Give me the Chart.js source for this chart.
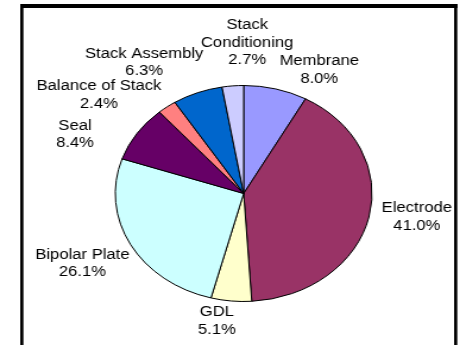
<!DOCTYPE html>
<html>
<head>
<meta charset="utf-8">
<script src="https://cdn.jsdelivr.net/npm/chart.js@4/dist/chart.umd.min.js"></script>
<style>
  html, body { margin: 0; padding: 0; background: #fff; overflow: hidden; }
  #wrap { width: 460px; height: 345px; overflow: hidden; }
  /* the chart is drawn narrow and stretched sideways, so the pie comes out oval */
  #costChart { display: block; transform: scaleX(1.18863); transform-origin: 0 0; }
</style>
</head>
<body>
<div id="wrap"><canvas id="costChart" width="387" height="345"></canvas></div>
<script>
const components = ['Membrane', 'Electrode', 'GDL', ['Bipolar Plate'], 'Seal', 'Balance of Stack', 'Stack Assembly', ['Stack', 'Conditioning']];
const shares = [8.0, 41.0, 5.1, 26.1, 8.4, 2.4, 6.3, 2.7];
const sliceColors = ['#9999FF', '#993366', '#FFFFCC', '#CCFFFF', '#660066', '#FF8080', '#0066CC', '#CCCCFF'];

// label centres, in pie radii from the pie centre
const labelSpots = [
  [0.589, -1.140], [1.349, 0.217], [-0.209, 1.184], [-1.256, 0.650],
  [-1.314, -0.544], [-1.128, -0.912], [-0.775, -1.212], [0.027, -1.395]
];

const framePlugin = {
  id: 'frame',
  beforeDraw(chart) {
    const ctx = chart.ctx;
    ctx.save();
    ctx.fillStyle = '#fff';
    ctx.fillRect(0, 0, chart.width, chart.height);
    ctx.fillStyle = '#000';
    ctx.fillRect(17, 4, 368, 4);
    ctx.fillRect(17, 4, 2.7, chart.height);
    ctx.fillRect(382, 4, 2.7, chart.height);
    ctx.restore();
  }
};

const labelPlugin = {
  id: 'sliceLabels',
  afterDatasetsDraw(chart) {
    const ctx = chart.ctx;
    const arcs = chart.getDatasetMeta(0).data;
    const cx = arcs[0].x, cy = arcs[0].y, r = arcs[0].outerRadius;
    const lineH = 17.5;
    ctx.save();
    ctx.font = '14px "Liberation Sans", Arial, sans-serif';
    ctx.fillStyle = '#000';
    ctx.textAlign = 'center';
    ctx.textBaseline = 'middle';
    arcs.forEach((arc, i) => {
      const name = components[i];
      const lines = (Array.isArray(name) ? name : [name]).concat(shares[i].toFixed(1) + '%');
      const x = cx + labelSpots[i][0] * r;
      const y = cy + labelSpots[i][1] * r;
      const top = y - (lines.length - 1) * lineH / 2;
      lines.forEach((t, j) => ctx.fillText(t, x, top + j * lineH));
    });
    ctx.restore();
  }
};

new Chart(document.getElementById('costChart'), {
  type: 'pie',
  data: {
    labels: components,
    datasets: [{
      data: shares,
      backgroundColor: sliceColors,
      borderColor: '#000',
      borderWidth: 1
    }]
  },
  options: {
    responsive: false,
    animation: false,
    events: [],
    layout: { padding: { top: 85, bottom: 43, left: 55, right: 32 } },
    plugins: {
      legend: { display: false },
      tooltip: { enabled: false }
    }
  },
  plugins: [framePlugin, labelPlugin]
});
</script>
</body>
</html>
